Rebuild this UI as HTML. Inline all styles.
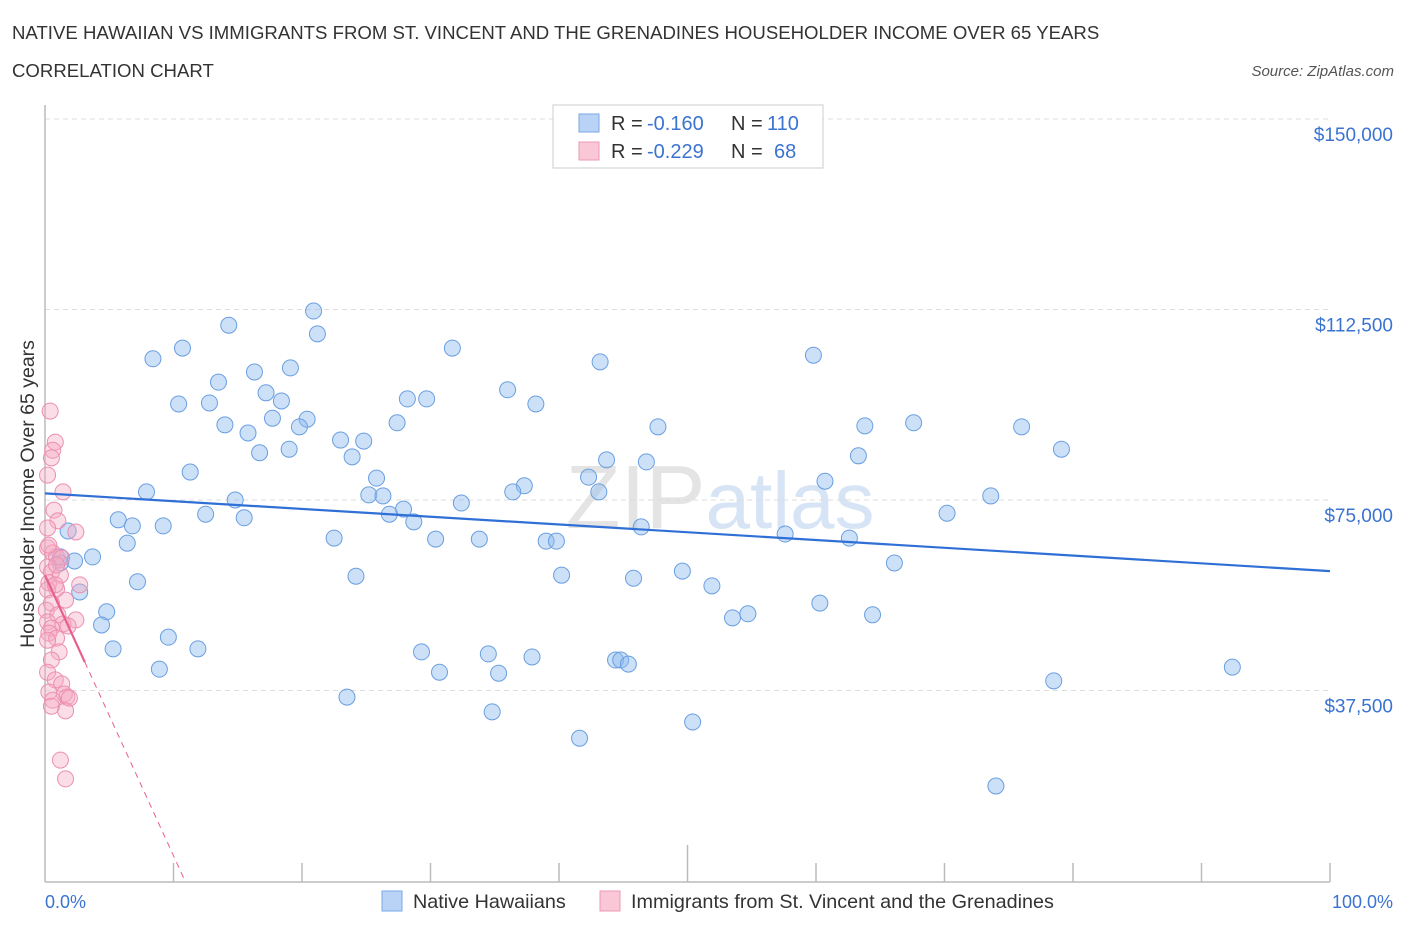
<!DOCTYPE html>
<html><head><meta charset="utf-8"><style>
body{margin:0;background:#fff;font-family:"Liberation Sans",sans-serif;}
svg text{font-family:"Liberation Sans",sans-serif;}
</style></head><body>
<svg id="chart" width="1406" height="930" xmlns="http://www.w3.org/2000/svg">
<text x="12" y="39" font-size="18.6" fill="#333">NATIVE HAWAIIAN VS IMMIGRANTS FROM ST. VINCENT AND THE GRENADINES HOUSEHOLDER INCOME OVER 65 YEARS</text>
<text x="12" y="77" font-size="18.6" fill="#333">CORRELATION CHART</text>
<text x="1394" y="76" font-size="15" fill="#555" font-style="italic" text-anchor="end">Source: ZipAtlas.com</text>
<text x="720" y="528" font-size="90" fill="#e4e4e4" text-anchor="middle" font-family="Liberation Serif">ZIP<tspan fill="#d6e4f5" font-family="Liberation Sans" font-size="80">atlas</tspan></text>
<g id="grid"></g>
<g id="axes"></g>
<text transform="translate(34,494) rotate(-90)" font-size="19.5" fill="#333" text-anchor="middle">Householder Income Over 65 years</text>
<text x="45" y="908" font-size="18" fill="#3b73d1">0.0%</text>
<text x="1393" y="908" font-size="18" fill="#3b73d1" text-anchor="end">100.0%</text>
<g id="points"></g>
<g id="trends"></g>
<g>
<rect x="553" y="105" width="270" height="63" fill="#fff" stroke="#ccc"/>
<rect x="579" y="114" width="20" height="18" fill="#b8d3f5" stroke="#7aa8e6"/>
<rect x="579" y="142" width="20" height="18" fill="#f9c7d6" stroke="#ee9ab5"/>
<text x="611" y="130" font-size="20" fill="#333">R =</text>
<text x="647" y="130" font-size="20" fill="#3b73d1">-0.160</text>
<text x="731" y="130" font-size="20" fill="#333">N =</text>
<text x="767" y="130" font-size="20" fill="#3b73d1">110</text>
<text x="611" y="158" font-size="20" fill="#333">R =</text>
<text x="647" y="158" font-size="20" fill="#3b73d1">-0.229</text>
<text x="731" y="158" font-size="20" fill="#333">N =</text>
<text x="774" y="158" font-size="20" fill="#3b73d1">68</text>
</g>
<g>
<rect x="382" y="891" width="20" height="20" fill="#b8d3f5" stroke="#7aa8e6"/>
<text x="413" y="908" font-size="19.8" fill="#333">Native Hawaiians</text>
<rect x="600" y="891" width="20" height="20" fill="#f9c7d6" stroke="#ee9ab5"/>
<text x="631" y="908" font-size="19.8" fill="#333">Immigrants from St. Vincent and the Grenadines</text>
</g>
</svg>
<script>
const yTicks=[37.5,75,112.5,150];
const yTickLabels=["$37,500","$75,000","$112,500","$150,000"];
const blueX=[20.9,14.3,21.2,10.7,8.4,31.7,43.2,59.8,19.1,16.3,13.5,36.0,17.2,18.4,28.2,29.7,10.4,12.8,38.2,17.7,20.4,19.8,14.0,15.8,27.4,23.0,24.8,47.7,63.8,67.6,76.0,79.1,16.7,19.0,23.9,43.7,46.8,63.3,11.3,25.8,42.3,37.3,60.7,7.9,14.8,25.2,26.3,32.4,36.4,43.1,73.6,27.9,26.8,12.5,15.5,5.7,6.8,9.2,28.7,70.2,46.4,57.6,1.8,6.4,22.5,30.4,33.8,39.0,39.8,62.6,1.2,2.3,3.7,1.2,66.1,24.2,40.2,45.8,49.6,51.9,7.2,2.7,4.8,60.3,54.7,53.5,64.4,4.4,9.6,5.3,11.9,29.3,34.5,37.9,44.4,44.8,45.4,8.9,30.7,35.3,92.4,78.5,23.5,34.8,50.4,41.6,74.0];
const blueY=[112.2,109.4,107.7,104.9,102.8,104.9,102.2,103.5,101.0,100.2,98.2,96.7,96.1,94.5,94.9,94.9,93.9,94.1,93.9,91.1,90.9,89.4,89.8,88.2,90.2,86.8,86.6,89.4,89.6,90.2,89.4,85.0,84.3,85.0,83.5,82.9,82.5,83.7,80.5,79.3,79.5,77.8,78.7,76.6,75.0,76.0,75.8,74.4,76.6,76.6,75.8,73.2,72.2,72.2,71.5,71.1,69.9,69.9,70.7,72.4,69.7,68.3,68.9,66.5,67.5,67.3,67.3,66.9,66.9,67.5,63.8,63.0,63.8,62.6,62.6,60.0,60.2,59.6,61.0,58.1,58.9,56.9,53.0,54.7,52.6,51.8,52.4,50.4,48.0,45.7,45.7,45.1,44.7,44.1,43.5,43.5,42.7,41.7,41.1,40.9,42.1,39.4,36.2,33.3,31.3,28.1,18.7];
const pinkX=[0.4,0.8,0.6,0.5,0.2,1.4,0.7,1.0,0.2,2.4,0.2,0.6,0.9,1.3,0.2,0.5,1.2,2.7,0.3,0.9,0.2,1.6,0.5,0.1,1.0,2.4,0.2,1.4,0.5,1.8,0.3,0.9,0.2,1.1,0.5,0.2,0.8,1.3,0.3,1.5,1.7,1.9,0.6,0.5,1.6,1.2,1.6,0.8,0.3,0.9];
const pinkY=[92.5,86.4,84.8,83.3,79.9,76.6,73.0,70.9,69.5,68.7,65.6,64.6,63.8,63.6,61.8,60.8,60.2,58.3,58.7,57.5,57.3,55.3,54.7,53.3,52.4,51.4,51.0,50.6,49.8,50.2,48.8,47.8,47.4,45.1,43.5,41.1,39.6,38.8,37.2,36.8,36.2,36.0,35.6,34.4,33.5,23.8,20.1,58.3,66.1,62.2];
const blueTrend=[76.3,61.0];
const pinkTrend=[60.2,0];
const pinkSolidEnd=3.1;
const pinkZeroX=10.9;

const NS="http://www.w3.org/2000/svg";
const X0=45,X1=1330,Y0=881,PXK=190.5/37.5;
const sx=v=>X0+(X1-X0)*v/100;
const sy=v=>Y0-v*PXK;
function mk(tag,attrs,parent){const e=document.createElementNS(NS,tag);for(const k in attrs)e.setAttribute(k,attrs[k]);parent.appendChild(e);return e;}
const grid=document.getElementById('grid'),axes=document.getElementById('axes');
yTicks.forEach((t,i)=>{
  const l=mk('line',{x1:X0,x2:X1,y1:sy(t),y2:sy(t),stroke:'#ddd','stroke-dasharray':'5,4'},grid);
  
  
  const tx=mk('text',{x:1393,y:sy(t)+22,'font-size':19,fill:'#3b73d1','text-anchor':'end'},grid);
  tx.textContent=yTickLabels[i];
  
  
});
const ax=mk('line',{x1:X0,x2:X1,y1:882,y2:882,stroke:'#bbb','stroke-width':1.5},axes);


const ay=mk('line',{x1:X0,x2:X0,y1:105,y2:882,stroke:'#bbb','stroke-width':1.5},axes);


for(let i=1;i<=10;i++){
  const tk=mk('line',{x1:sx(i*10),x2:sx(i*10),y1:i==5?845:863,y2:882,stroke:'#bbb','stroke-width':1.5},axes);
  
  
}
const pts=document.getElementById('points');
blueX.forEach((x,i)=>{
  const c=mk('circle',{cx:sx(x),cy:sy(blueY[i]),r:8,fill:'rgba(142,186,240,0.45)',stroke:'#6a9fe0','stroke-width':1},pts);
  
  
});
pinkX.forEach((x,i)=>{
  const c=mk('circle',{cx:sx(x),cy:sy(pinkY[i]),r:8,fill:'rgba(246,170,195,0.4)',stroke:'#ec8fae','stroke-width':1},pts);
  
  
});
const tr=document.getElementById('trends');
const bl=mk('line',{x1:sx(0),y1:sy(blueTrend[0]),x2:sx(100),y2:sy(blueTrend[1]),stroke:'#2f6fd6','stroke-width':2.2},tr);


const slope=(pinkTrend[1]-pinkTrend[0])/pinkZeroX;
const ps=mk('line',{x1:sx(0),y1:sy(pinkTrend[0]),x2:sx(pinkSolidEnd),y2:sy(pinkTrend[0]+slope*pinkSolidEnd),stroke:'#e8608a','stroke-width':2.2},tr);


const pd=mk('line',{x1:sx(pinkSolidEnd),y1:sy(pinkTrend[0]+slope*pinkSolidEnd),x2:sx(pinkZeroX),y2:sy(pinkTrend[1]),stroke:'#e8608a','stroke-width':1,'stroke-dasharray':'6,5'},tr);


</script>
</body></html>
